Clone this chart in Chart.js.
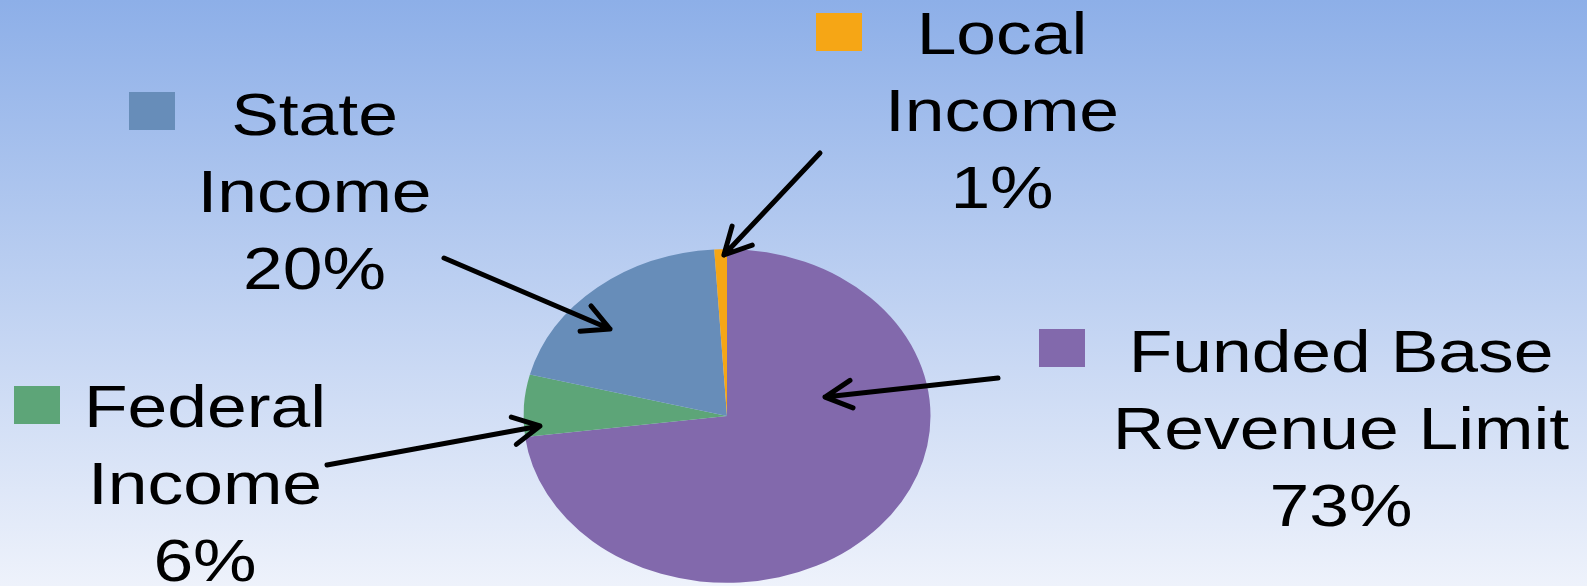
<!DOCTYPE html>
<html lang="en">
<head>
    <meta charset="UTF-8">
    <title>Income Sources</title>
    <script src="https://cdn.jsdelivr.net/npm/chart.js@4.4.0/dist/chart.umd.min.js"></script>
    <style>
      html, body { margin: 0; padding: 0; overflow: hidden; background: #eef2fb; }
      #wrap { width: 1587px; height: 640px; }
    </style>
</head>
<body>
<div id="wrap"><canvas id="incomePie" width="1587" height="640"></canvas></div>
<script>
    // data
    const categories = ['Funded Base Revenue Limit', 'Federal Income', 'State Income', 'Local Income'];
    const shares = [73, 6, 20, 1];
    const labelLines = [['Funded Base', 'Revenue Limit'], ['Federal', 'Income'], ['State', 'Income'], ['Local', 'Income']];
    const sliceColors = ['#8269AC', '#5DA578', '#678DB9', '#F6A615'];

    // callout layout: label centre x, first baseline, key square, arrow tail,
    // and where the arrow lands inside its slice (fraction of angle / of radius)
    const callouts = [
        { cx: 1341, base: 372, key: [1039, 329], tail: [998, 378], at: 0.292, rf: 0.495 },
        { cx: 205, base: 427, key: [14, 386], tail: [327, 465], at: 0.162, rf: 0.921 },
        { cx: 314.5, base: 135, key: [129, 92], tail: [444, 258], at: 0.386, rf: 0.776 },
        { cx: 1002, base: 54, key: [816, 13], tail: [820, 153], at: 0.75, rf: 0.965 }
    ];

    const SQUASH = 0.82;     // the original picture is stretched sideways
    const STRETCH = 1.19;
    const LINE_GAP = 77;

    const backdrop = {
        id: 'backdrop',
        beforeDraw(chart) {
            const ctx = chart.ctx;
            const g = ctx.createLinearGradient(0, 0, 0, 586);
            g.addColorStop(0, '#8DAFE8');
            g.addColorStop(1, '#EEF2FB');
            ctx.save();
            ctx.fillStyle = g;
            ctx.fillRect(0, 0, chart.width, chart.height);
            ctx.restore();
        }
    };

    const squash = {
        id: 'squash',
        beforeDatasetsDraw(chart) {
            const arc = chart.getDatasetMeta(0).data[0];
            const ctx = chart.ctx;
            ctx.save();
            ctx.translate(arc.x, arc.y);
            ctx.scale(1, SQUASH);
            ctx.translate(-arc.x, -arc.y);
        },
        afterDatasetsDraw(chart) {
            chart.ctx.restore();
        }
    };

    const calloutPlugin = {
        id: 'callouts',
        afterDraw(chart) {
            const ctx = chart.ctx;
            const arcs = chart.getDatasetMeta(0).data;
            callouts.forEach((c, i) => {
                const p = arcs[i].getProps(['x', 'y', 'startAngle', 'endAngle', 'outerRadius'], true);
                const a = p.startAngle + c.at * (p.endAngle - p.startAngle);
                const r = c.rf * p.outerRadius;
                const tx = p.x + r * Math.cos(a);
                const ty = p.y + r * Math.sin(a) * SQUASH;

                // arrow
                ctx.save();
                ctx.strokeStyle = '#000';
                ctx.lineWidth = 5;
                ctx.lineCap = 'round';
                ctx.lineJoin = 'round';
                ctx.beginPath();
                ctx.moveTo(c.tail[0], c.tail[1]);
                ctx.lineTo(tx, ty);
                const back = Math.atan2(c.tail[1] - ty, c.tail[0] - tx);
                const head = 30, spread = 0.48;
                ctx.moveTo(tx + head * Math.cos(back - spread), ty + head * Math.sin(back - spread));
                ctx.lineTo(tx, ty);
                ctx.lineTo(tx + head * Math.cos(back + spread), ty + head * Math.sin(back + spread));
                ctx.stroke();
                ctx.restore();

                // legend key
                ctx.fillStyle = sliceColors[i];
                ctx.fillRect(c.key[0], c.key[1], 46, 38);

                // label text
                const lines = labelLines[i].concat([shares[i] + '%']);
                ctx.save();
                ctx.fillStyle = '#000';
                ctx.font = '60px "Liberation Sans", Arial, sans-serif';
                ctx.textAlign = 'center';
                ctx.textBaseline = 'alphabetic';
                lines.forEach((line, k) => {
                    ctx.save();
                    ctx.translate(c.cx, c.base + k * LINE_GAP);
                    ctx.scale(STRETCH, 1);
                    ctx.fillText(line, 0, 0);
                    ctx.restore();
                });
                ctx.restore();
            });
        }
    };

    new Chart(document.getElementById('incomePie'), {
        type: 'pie',
        data: {
            labels: categories,
            datasets: [{
                data: shares,
                backgroundColor: sliceColors,
                borderWidth: 0,
                hoverOffset: 0
            }]
        },
        options: {
            responsive: false,
            animation: false,
            events: [],
            layout: { padding: { top: 212.5, bottom: 20.5, left: 523.5, right: 656.5 } },
            plugins: {
                legend: { display: false },
                tooltip: { enabled: false }
            }
        },
        plugins: [backdrop, squash, calloutPlugin]
    });
</script>
</body>
</html>
